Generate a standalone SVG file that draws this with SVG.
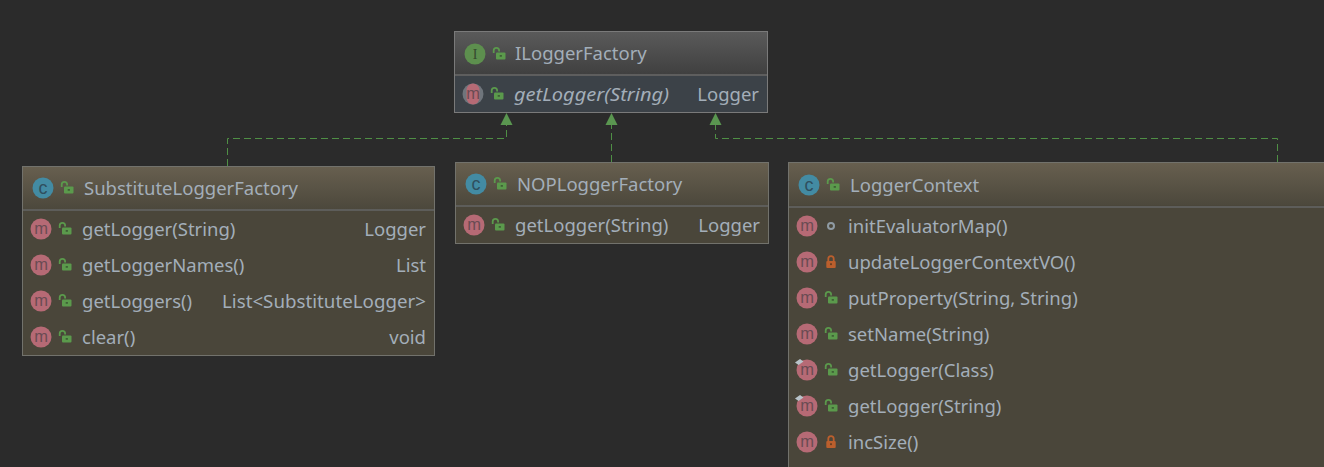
<svg xmlns="http://www.w3.org/2000/svg" width="1324" height="467" viewBox="0 0 1324 467">
<style>
text{font-family:"Noto Sans","Open Sans","Liberation Sans",sans-serif;font-size:18.5px;fill:#a3aeb9}
.t{text-anchor:end}
.box{fill:#4a463a;stroke:#72726c;stroke-width:1}
.ibox{fill:#3c4248;stroke:#7a7a7a;stroke-width:1}
.div{stroke:#5d5d5a;stroke-width:2}
.idiv{stroke:#5e5e5e;stroke-width:2}
.gl{text-anchor:middle;font-family:"Liberation Sans",sans-serif}
.conn{fill:none;stroke:#4f8f45;stroke-width:1;stroke-dasharray:7 4}
.head{fill:#5a9650;stroke:none}
</style>
<defs>
<linearGradient id="hg" x1="0" y1="0" x2="0" y2="1"><stop offset="0" stop-color="#675f4f"/><stop offset="1" stop-color="#4c483c"/></linearGradient>
<linearGradient id="ig" x1="0" y1="0" x2="0" y2="1"><stop offset="0" stop-color="#5a5a5a"/><stop offset="1" stop-color="#404040"/></linearGradient>
<g id="lockopen"><path d="M-5.300 -1v-2.500a2.700 2.700 0 0 1 5.400 0v1" fill="none" stroke="#5b9a4c" stroke-width="1.800"/><rect x="-3" y="-1.500" width="9.500" height="7" rx="1" fill="#5b9a4c"/><rect x="0.700" y="1.100" width="2.200" height="1.600" fill="#3c5a34"/></g>
<g id="lockshut"><path d="M-2.700 -1v-2.200a2.700 2.700 0 0 1 5.400 0v2.200" fill="none" stroke="#bb5f2d" stroke-width="1.800"/><rect x="-4.700" y="-1" width="9.400" height="7" rx="1" fill="#bb5f2d"/><rect x="-1" y="1.300" width="2" height="1.800" fill="#6d3f22"/></g>
<g id="mg"><text y="5" class="gl" style="font-size:16.500px;fill:#6a4c53">m</text></g>
<g id="m"><circle r="10.500" fill="#b66a75"/><use href="#mg"/></g>
<g id="c"><circle r="10.500" fill="#438ba3"/><text y="6" class="gl" style="font-size:18px;fill:#2f4f5f">c</text></g>
<path id="ov" d="M-12 -7.500l5 -3.500 3.500 2.500-5 3.500z" fill="#b9c4ca"/>
</defs>

<rect width="1324" height="467" fill="#2b2b2b"/>

<g id="connectors">
<path class="conn" d="M227.500 166V138.500H506.500V125"/>
<path class="conn" d="M611.500 162V125"/>
<path class="conn" d="M1277.500 162V138.500H715.500V125"/>
<path class="head" d="M506.500 113l6 12h-12z"/>
<path class="head" d="M611.500 113l6 12h-12z"/>
<path class="head" d="M715.500 113l6 12h-12z"/>
</g>

<g id="ILoggerFactory">
<rect class="ibox" x="454.500" y="31.500" width="313" height="81"/>
<rect x="455" y="32" width="312" height="42" fill="url(#ig)"/>
<line class="idiv" x1="455" x2="767" y1="75" y2="75"/>
<circle cx="475" cy="54" r="10.500" fill="#5d8f4e"/><text x="475" y="59" class="gl" style="font-size:14px;fill:#35492f;font-family:'Liberation Serif',serif">I</text>
<use href="#lockopen" x="499" y="54"/>
<text x="515" y="60">ILoggerFactory</text>
<circle cx="473" cy="94" r="10.500" fill="#6f757c"/><rect x="466.500" y="83.500" width="13" height="21" rx="6.500" fill="#b66a75"/><use href="#mg" x="473" y="94"/>
<use href="#lockopen" x="497" y="94"/>
<text x="514" y="101" font-style="italic" textLength="155" lengthAdjust="spacingAndGlyphs">getLogger(String)</text>
<text class="t" x="759" y="101">Logger</text>
</g>

<g id="SubstituteLoggerFactory">
<rect class="box" x="22.500" y="166.500" width="412" height="189"/>
<rect x="23" y="167" width="411" height="42" fill="url(#hg)"/>
<line class="div" x1="23" x2="434" y1="210" y2="210"/>
<use href="#c" x="43" y="188"/>
<use href="#lockopen" x="67" y="188"/>
<text x="84" y="195">SubstituteLoggerFactory</text>
<use href="#m" x="41" y="229"/><use href="#lockopen" x="65" y="229"/>
<text x="82" y="236">getLogger(String)</text><text class="t" x="426" y="236">Logger</text>
<use href="#m" x="41" y="265"/><use href="#lockopen" x="65" y="265"/>
<text x="82" y="272">getLoggerNames()</text><text class="t" x="426" y="272">List</text>
<use href="#m" x="41" y="301"/><use href="#lockopen" x="65" y="301"/>
<text x="82" y="308">getLoggers()</text><text class="t" x="426" y="308" textLength="204" lengthAdjust="spacingAndGlyphs">List&lt;SubstituteLogger&gt;</text>
<use href="#m" x="41" y="337"/><use href="#lockopen" x="65" y="337"/>
<text x="82" y="344">clear()</text><text class="t" x="426" y="344">void</text>
</g>

<g id="NOPLoggerFactory">
<rect class="box" x="455.500" y="162.500" width="313" height="81"/>
<rect x="456" y="163" width="312" height="42" fill="url(#hg)"/>
<line class="div" x1="456" x2="768" y1="206" y2="206"/>
<use href="#c" x="476" y="184"/>
<use href="#lockopen" x="500" y="184"/>
<text x="517" y="191">NOPLoggerFactory</text>
<use href="#m" x="474" y="225"/><use href="#lockopen" x="498" y="225"/>
<text x="515" y="232">getLogger(String)</text><text class="t" x="760" y="232">Logger</text>
</g>

<g id="LoggerContext">
<rect class="box" x="788.500" y="162.500" width="540" height="310"/>
<rect x="789" y="163" width="535" height="42" fill="url(#hg)"/>
<line class="div" x1="789" x2="1324" y1="207" y2="207"/>
<use href="#c" x="809" y="185"/>
<use href="#lockopen" x="833" y="185"/>
<text x="850" y="192">LoggerContext</text>
<use href="#m" x="807" y="226"/><circle cx="831" cy="226" r="3" fill="#4a463a" stroke="#8f9ba3" stroke-width="2"/>
<text x="848" y="233">initEvaluatorMap()</text>
<use href="#m" x="807" y="262"/><use href="#lockshut" x="831" y="262"/>
<text x="848" y="269">updateLoggerContextVO()</text>
<use href="#m" x="807" y="298"/><use href="#lockopen" x="831" y="298"/>
<text x="848" y="305">putProperty(String, String)</text>
<use href="#m" x="807" y="334"/><use href="#lockopen" x="831" y="334"/>
<text x="848" y="341">setName(String)</text>
<use href="#m" x="807" y="370"/><use href="#ov" x="807" y="370"/><use href="#lockopen" x="831" y="370"/>
<text x="848" y="377">getLogger(Class)</text>
<use href="#m" x="807" y="406"/><use href="#ov" x="807" y="406"/><use href="#lockopen" x="831" y="406"/>
<text x="848" y="413">getLogger(String)</text>
<use href="#m" x="807" y="442"/><use href="#lockshut" x="831" y="442"/>
<text x="848" y="449">incSize()</text>
</g>
</svg>
